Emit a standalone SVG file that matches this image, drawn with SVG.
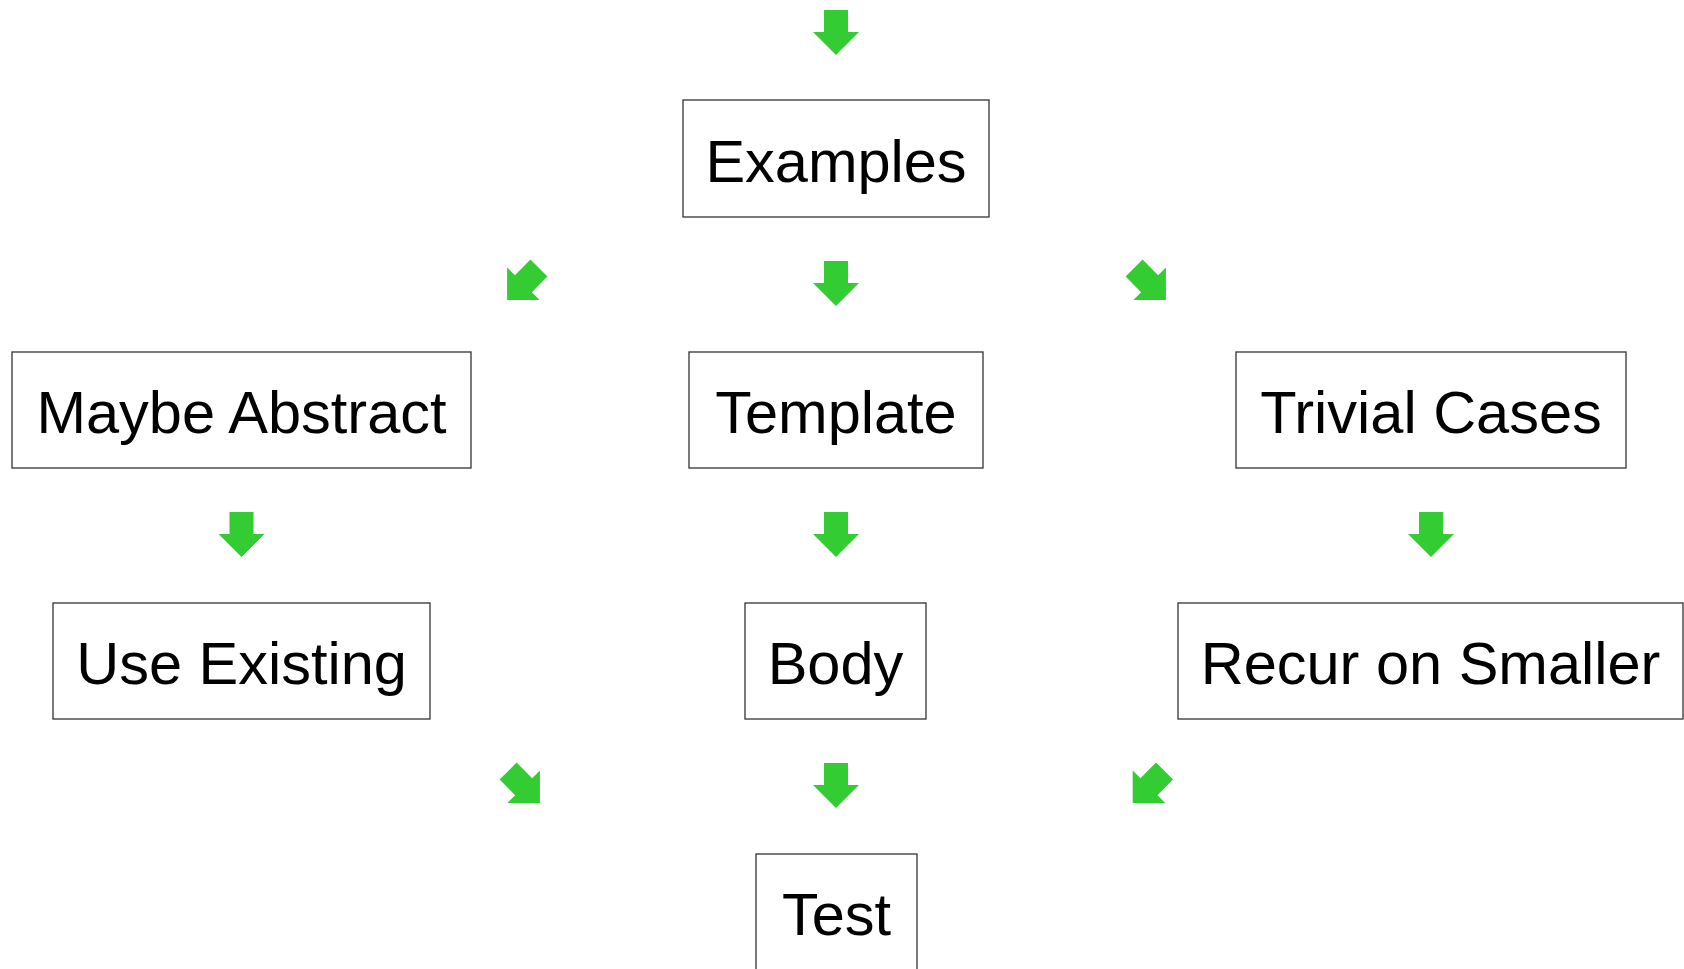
<svg xmlns="http://www.w3.org/2000/svg" width="1684" height="969" viewBox="0 0 1684 969">
<style>
.box{fill:#ffffff;stroke:#333333;stroke-width:1.3}
.lbl{font-family:"Liberation Sans",Arial,sans-serif;font-size:59.5px;fill:#000000;text-anchor:middle}
.arr{fill:#33cc33;stroke:none}
</style>
<defs>
<path id="arrow" d="M-12,-22.5 H12 V-0.5 H23 L0,22.5 L-23,-0.5 H-12 Z"/>
</defs>
<rect width="1684" height="969" fill="#ffffff"/>
<g id="connectors" class="arr">
<use href="#arrow" transform="translate(836,32.5)"/>
<use href="#arrow" transform="translate(523,284) rotate(45)"/>
<use href="#arrow" transform="translate(836,283.5)"/>
<use href="#arrow" transform="translate(1150,284) rotate(-45)"/>
<use href="#arrow" transform="translate(241.5,534.5)"/>
<use href="#arrow" transform="translate(836,534.5)"/>
<use href="#arrow" transform="translate(1431,534.5)"/>
<use href="#arrow" transform="translate(524,787) rotate(-45)"/>
<use href="#arrow" transform="translate(836,785.5)"/>
<use href="#arrow" transform="translate(1148.6,787) rotate(45)"/>
</g>
<g id="examples"><rect class="box" x="683" y="100" width="306" height="117"/><text class="lbl" x="836" y="181.5">Examples</text></g>
<g id="maybe-abstract"><rect class="box" x="12" y="352" width="459" height="116"/><text class="lbl" x="241.5" y="433">Maybe Abstract</text></g>
<g id="template"><rect class="box" x="689" y="352" width="294" height="116"/><text class="lbl" x="836" y="433">Template</text></g>
<g id="trivial-cases"><rect class="box" x="1236" y="352" width="390" height="116"/><text class="lbl" x="1431" y="433">Trivial Cases</text></g>
<g id="use-existing"><rect class="box" x="53" y="603" width="377" height="116"/><text class="lbl" x="241.5" y="684">Use Existing</text></g>
<g id="body"><rect class="box" x="745" y="603" width="181" height="116"/><text class="lbl" x="835.5" y="684">Body</text></g>
<g id="recur-on-smaller"><rect class="box" x="1178" y="603" width="505" height="116"/><text class="lbl" x="1430.5" y="684">Recur on Smaller</text></g>
<g id="test"><rect class="box" x="756" y="854" width="161" height="118"/><text class="lbl" x="836.5" y="935">Test</text></g>
</svg>
